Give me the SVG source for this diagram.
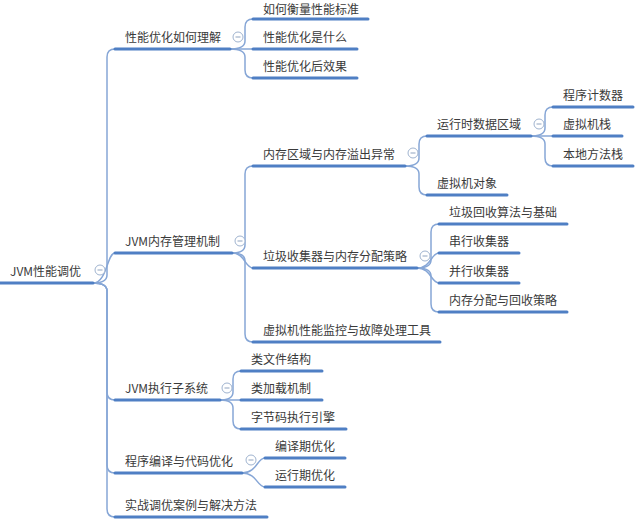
<svg xmlns="http://www.w3.org/2000/svg" width="640" height="523" viewBox="0 0 640 523">
<style>
text{font-family:"Noto Sans CJK SC","Noto Sans",sans-serif;font-size:12px;fill:#3a3a3a}
.ul{stroke:#4f7fc4;stroke-width:3;stroke-linecap:round;fill:none}
.cn{stroke:#86a6d6;stroke-width:1.5;fill:none}
.tg circle{fill:#fff;stroke:#9fb3cf;stroke-width:1}
.tg line{stroke:#8fa3bf;stroke-width:1}
</style>
<defs>
<g id="tog" class="tg"><circle r="5"/><line x1="-2.5" y1="0" x2="2.5" y2="0"/></g>
</defs>
<rect width="640" height="523" fill="#fff"/>
<g id="connectors">
<path class="cn" d="M93,283 Q107,283 107,275 V57 Q107,49 115,49"/>
<path class="cn" d="M93,283 C107,283 107,253 115,253"/>
<path class="cn" d="M93,283 Q107,283 107,291 V392 Q107,400 115,400"/>
<path class="cn" d="M93,283 Q107,283 107,291 V465 Q107,473 115,473"/>
<path class="cn" d="M93,283 Q107,283 107,291 V509 Q107,517 115,517"/>
<path class="cn" d="M230,49 Q245,49 245,41 V27 Q245,19 253,19"/>
<path class="cn" d="M230,49 H253"/>
<path class="cn" d="M230,49 Q245,49 245,57 V70 Q245,78 253,78"/>
<path class="cn" d="M232,253 Q245,253 245,245 V174 Q245,166 253,166"/>
<path class="cn" d="M232,253 C245,253 245,268 253,268"/>
<path class="cn" d="M232,253 Q245,253 245,261 V334 Q245,342 253,342"/>
<path class="cn" d="M405,166 Q419,166 419,158 V144 Q419,136 427,136"/>
<path class="cn" d="M405,166 Q419,166 419,174 V187 Q419,195 427,195"/>
<path class="cn" d="M531,136 Q545,136 545,128 V115 Q545,107 553,107"/>
<path class="cn" d="M531,136 H553"/>
<path class="cn" d="M531,136 Q545,136 545,144 V158 Q545,166 553,166"/>
<path class="cn" d="M417,268 Q431,268 431,260 V232 Q431,224 439,224"/>
<path class="cn" d="M417,268 C431,268 431,253 439,253"/>
<path class="cn" d="M417,268 C431,268 431,283 439,283"/>
<path class="cn" d="M417,268 Q431,268 431,276 V304 Q431,312 439,312"/>
<path class="cn" d="M220,400 Q233,400 233,392 V379 Q233,371 241,371"/>
<path class="cn" d="M220,400 H241"/>
<path class="cn" d="M220,400 Q233,400 233,408 V421 Q233,429 241,429"/>
<path class="cn" d="M242,473 C257,473 257,458 265,458"/>
<path class="cn" d="M242,473 C257,473 257,487 265,487"/>
</g>
<g id="root"><path class="ul" d="M0,283 H93"/><text x="10" y="276">JVM性能调优</text><use href="#tog" x="100" y="270"/></g>
<g id="n1"><path class="ul" d="M115,49 H230"/><text x="125" y="42">性能优化如何理解</text><use href="#tog" x="238" y="37"/></g>
<g id="n1a"><path class="ul" d="M253,19 H368"/><text x="263" y="13.5">如何衡量性能标准</text></g>
<g id="n1b"><path class="ul" d="M253,49 H357"/><text x="263" y="42">性能优化是什么</text></g>
<g id="n1c"><path class="ul" d="M253,78 H357"/><text x="263" y="71">性能优化后效果</text></g>
<g id="n2"><path class="ul" d="M115,253 H232"/><text x="125" y="246">JVM内存管理机制</text><use href="#tog" x="240" y="241"/></g>
<g id="n2a"><path class="ul" d="M253,166 H405"/><text x="263" y="159">内存区域与内存溢出异常</text><use href="#tog" x="413" y="153"/></g>
<g id="n2a1"><path class="ul" d="M427,136 H531"/><text x="437" y="129">运行时数据区域</text><use href="#tog" x="539" y="124"/></g>
<g id="n2a1a"><path class="ul" d="M553,107 H633"/><text x="563" y="100">程序计数器</text></g>
<g id="n2a1b"><path class="ul" d="M553,136 H622"/><text x="563" y="129">虚拟机栈</text></g>
<g id="n2a1c"><path class="ul" d="M553,166 H633"/><text x="563" y="159">本地方法栈</text></g>
<g id="n2a2"><path class="ul" d="M427,195 H507"/><text x="437" y="188">虚拟机对象</text></g>
<g id="n2b"><path class="ul" d="M253,268 H417"/><text x="263" y="261">垃圾收集器与内存分配策略</text><use href="#tog" x="425" y="256"/></g>
<g id="n2b1"><path class="ul" d="M439,224 H567"/><text x="449" y="217">垃圾回收算法与基础</text></g>
<g id="n2b2"><path class="ul" d="M439,253 H519"/><text x="449" y="246">串行收集器</text></g>
<g id="n2b3"><path class="ul" d="M439,283 H519"/><text x="449" y="276">并行收集器</text></g>
<g id="n2b4"><path class="ul" d="M439,312 H567"/><text x="449" y="305">内存分配与回收策略</text></g>
<g id="n2c"><path class="ul" d="M253,342 H440"/><text x="263" y="335">虚拟机性能监控与故障处理工具</text></g>
<g id="n3"><path class="ul" d="M115,400 H220"/><text x="125" y="393">JVM执行子系统</text><use href="#tog" x="227" y="388"/></g>
<g id="n3a"><path class="ul" d="M241,371 H322"/><text x="251" y="364">类文件结构</text></g>
<g id="n3b"><path class="ul" d="M241,400 H322"/><text x="251" y="393">类加载机制</text></g>
<g id="n3c"><path class="ul" d="M241,429 H346"/><text x="251" y="422">字节码执行引擎</text></g>
<g id="n4"><path class="ul" d="M115,473 H242"/><text x="125" y="466">程序编译与代码优化</text><use href="#tog" x="251" y="460"/></g>
<g id="n4a"><path class="ul" d="M265,458 H345"/><text x="275" y="451">编译期优化</text></g>
<g id="n4b"><path class="ul" d="M265,487 H345"/><text x="275" y="480">运行期优化</text></g>
<g id="n5"><path class="ul" d="M115,517 H267"/><text x="125" y="510">实战调优案例与解决方法</text></g>
</svg>
